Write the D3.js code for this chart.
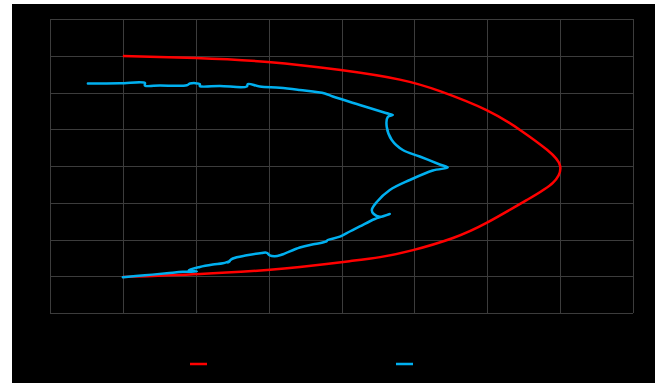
<!DOCTYPE html>
<html>
<head>
<meta charset="utf-8">
<script src="https://cdn.jsdelivr.net/npm/d3@7/dist/d3.min.js"></script>
<style>
  html, body { margin: 0; padding: 0; background: #ffffff; }
  svg { display: block; }
</style>
</head>
<body>
<script>
// Grid tick positions (8 divisions each way)
const xTicks = [-1, 0, 1, 2, 3, 4, 5, 6, 7];
const yTicks = [-4, -3, -2, -1, 0, 1, 2, 3, 4];

// Reference loop (red): upper branch then lower branch
const redX = [0, 1.0, 1.99, 2.99, 3.8, 4.36, 4.99, 5.45, 5.82, 6.0,
              5.9, 5.54, 4.99, 4.53, 3.98, 3.53, 3.11, 2.43, 1.98, 1.06, 0];
const redY = [2.99, 2.94, 2.83, 2.61, 2.35, 2.03, 1.52, 0.98, 0.44, 0,
              -0.46, -0.93, -1.55, -1.96, -2.29, -2.48, -2.59, -2.75, -2.83, -2.94, -3.02];

// Measured trace (blue), in pixel-read order from lower left
const bluePx = [123, 145, 167, 183, 197, 189, 200, 213, 223, 230, 228, 233, 247, 262, 267, 270, 275,
                281, 300, 315, 326, 328, 340, 350, 360, 375, 390, 380, 374, 372, 377, 390, 410,
                433, 448, 440, 420, 403, 392, 387, 388, 393, 386, 360, 333, 325, 300, 280, 260,
                248, 247, 220, 200, 200, 190, 187, 160, 145, 145, 120, 88];
const bluePy = [277.3, 275.3, 273.3, 271.8, 271.5, 270.3, 267, 264.6, 263.3, 261.2, 262.5, 258.5, 255.3,
                253, 252.8, 255.5, 256.3, 255, 247.5, 244, 241.7, 240, 236.7, 231.5, 226.5, 219,
                214, 216.8, 214, 210, 202, 190, 180, 170.5, 167.5, 164.5, 156.5, 150, 140, 127,
                117, 115, 113, 105, 96.5, 93.5, 90, 87.7, 86.5, 84, 86.5, 86, 86, 84, 83.5, 85.3,
                85.5, 85.5, 83, 83.3, 83.5];
// convert pixel reads into data units (x: 72.9 px per unit from 123, y: 36.75 px per unit from 166)
const blueX = bluePx.map(p => +((p - 123) / 72.9).toFixed(3));
const blueY = bluePy.map(p => +((166 - p) / 36.75).toFixed(3));

const W = 664, H = 383;
const svg = d3.select("body").append("svg").attr("width", W).attr("height", H);

// chart frame
svg.append("rect").attr("x", 12).attr("y", 4).attr("width", 643).attr("height", 379).attr("fill", "#000");

const plot = { left: 50, right: 633, top: 19, bottom: 313 };
const x = d3.scaleLinear().domain([-1, 7]).range([plot.left, plot.right]);
const y = d3.scaleLinear().domain([-4, 4]).range([plot.bottom, plot.top]);

const grid = svg.append("g");
grid.append("g")
  .attr("transform", `translate(0,${plot.bottom})`)
  .call(d3.axisBottom(x).tickValues(xTicks).tickSize(-(plot.bottom - plot.top)).tickFormat(""))
  .call(g => g.select(".domain").remove());
grid.append("g")
  .attr("transform", `translate(${plot.left},0)`)
  .call(d3.axisLeft(y).tickValues(yTicks).tickSize(-(plot.right - plot.left)).tickFormat(""))
  .call(g => g.select(".domain").remove());
grid.selectAll("line").attr("stroke", "#3c3c3c").attr("stroke-width", 1).attr("shape-rendering", "crispEdges");

const smooth = d3.line().x(d => x(d[0])).y(d => y(d[1])).curve(d3.curveNatural);
const trace = d3.line().x(d => x(d[0])).y(d => y(d[1])).curve(d3.curveCatmullRom.alpha(0.5));

svg.append("path")
  .datum(redX.map((v, i) => [v, redY[i]]))
  .attr("d", smooth).attr("fill", "none").attr("stroke", "#ff0000").attr("stroke-width", 2.5)
  .attr("stroke-linejoin", "round");

svg.append("path")
  .datum(blueX.map((v, i) => [v, blueY[i]]))
  .attr("d", trace).attr("fill", "none").attr("stroke", "#00b0f0").attr("stroke-width", 2.5)
  .attr("stroke-linejoin", "round").attr("stroke-linecap", "round");

// legend keys
const legend = [
  { color: "#ff0000", x: 190 },
  { color: "#00b0f0", x: 396 }
];
svg.selectAll(".key").data(legend).join("line")
  .attr("x1", d => d.x).attr("x2", d => d.x + 17)
  .attr("y1", 364).attr("y2", 364)
  .attr("stroke", d => d.color).attr("stroke-width", 2.5);
</script>
</body>
</html>
